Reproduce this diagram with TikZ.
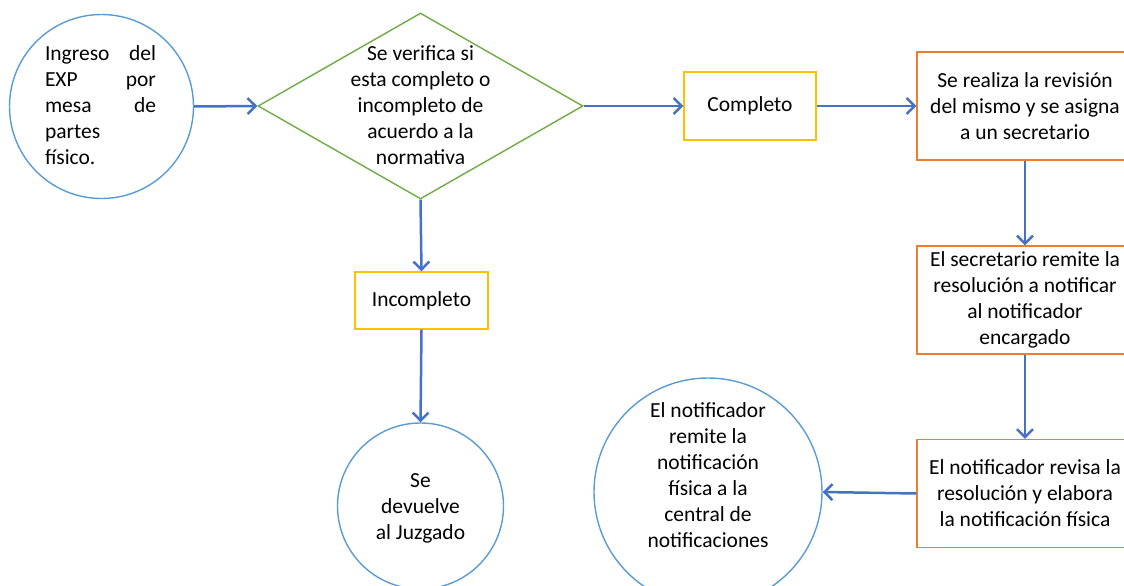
\documentclass[tikz,border=0pt]{standalone}
\usepackage{fontspec}
\setmainfont{Carlito}
\usetikzlibrary{shapes.geometric,arrows.meta}
\definecolor{cblue}{HTML}{5B9BD5}
\definecolor{cgreen}{HTML}{70AD47}
\definecolor{cyellow}{HTML}{FFC000}
\definecolor{corange}{HTML}{ED7D31}
\definecolor{carrow}{HTML}{4472C4}
\begin{document}
\begin{tikzpicture}[x=1pt,y=-1pt,
  font=\fontsize{21.5}{26}\selectfont,
  circ/.style={circle,draw=cblue,line width=1.4pt,inner sep=0pt,minimum size=#1},
  ybox/.style={rectangle,draw=cyellow,line width=1.4pt,inner sep=0pt,minimum height=#1},
  obox/.style={rectangle,draw=corange,line width=1.4pt,inner sep=0pt,minimum width=216pt,minimum height=108pt,align=center},
  dia/.style={diamond,draw=cgreen,line width=1.4pt,inner sep=0pt,minimum width=325pt,minimum height=186pt},
  txt/.style={align=center,inner sep=0pt},
  arr/.style={draw=carrow,line width=2.5pt,-{Straight Barb[length=8pt,width=16pt,line width=2.5pt]}}]
\useasboundingbox (0,0) rectangle (1124,586);

% nodes
\node[circ=184pt] (c1) at (101.5,106.5) {};
\node[text width=111pt,align=left,inner sep=0pt] (t1) at (100.5,105) {Ingreso\hfill del\\EXP\hfill por\\mesa\hfill de\\partes\\físico.};

\node[dia] (d) at (420.5,106) {};
\node[txt] (dt) at (420.5,105) {Se verifica si\\esta completo o\\incompleto de\\acuerdo a la\\normativa};

\node[ybox=68pt,minimum width=132pt] (comp) at (750,106) {Completo};
\node[ybox=57pt,minimum width=133pt] (inc) at (421.5,300.5) {Incompleto};

\node[circ=166pt] (c2) at (420.5,506) {};
\node[txt] (c2t) at (420.5,508) {Se\\devuelve\\al Juzgado};

\node[obox] (b1) at (1025,106) {Se realiza la revisión\\del mismo y se asigna\\a un secretario};
\node[obox] (b2) at (1025,300) {El secretario remite la\\resolución a notificar\\al notificador\\encargado};
\node[obox] (b3) at (1025,493.5) {El notificador revisa la\\resolución y elabora\\la notificación física};

\node[circ=228pt] (c3) at (708,492) {};
\node[txt] (c3t) at (708,475.5) {El notificador\\remite la\\notificación\\física a la\\central de\\notificaciones};

% connectors
\draw[arr] (c1.east) -- (d.west);
\draw[arr] (d.east) -- (comp.west);
\draw[arr] (comp.east) -- (b1.west);
\draw[arr] (d.south) -- (inc.north);
\draw[arr] (inc.south) -- (c2.north);
\draw[arr] (b1.south) -- (b2.north);
\draw[arr] (b2.south) -- (b3.north);
\draw[arr] (b3.west) -- (c3.east);
\end{tikzpicture}
\end{document}
